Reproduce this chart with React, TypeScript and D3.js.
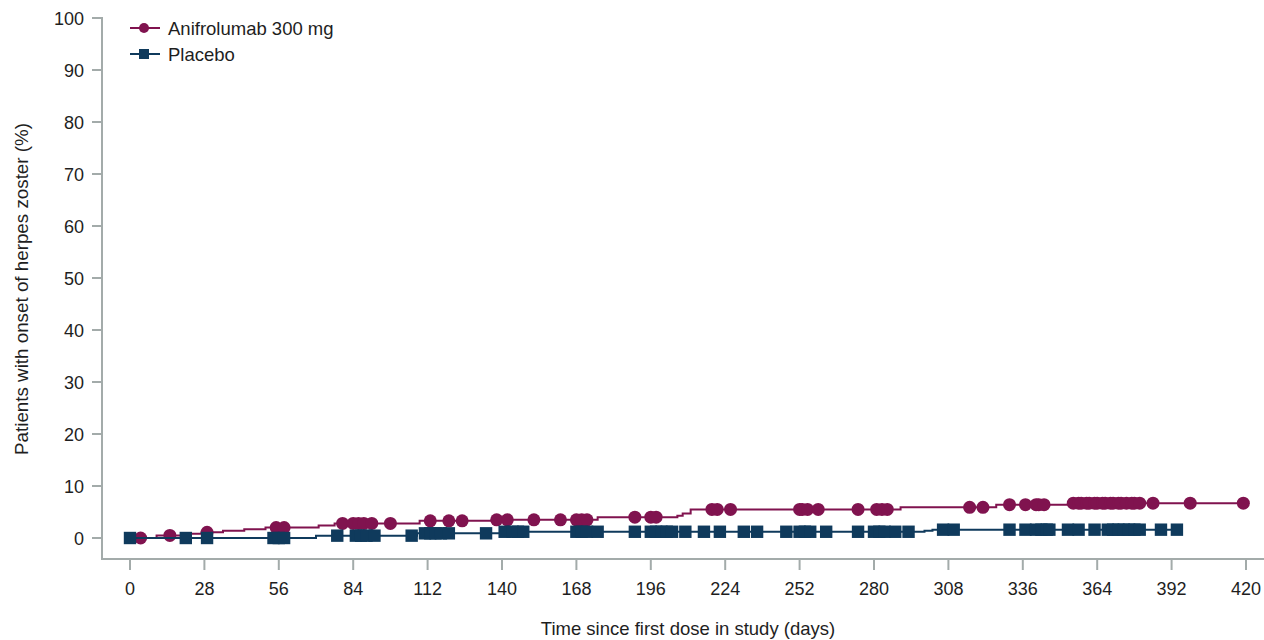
import React from "react";
import * as d3 from "d3";

// step points: [day, cumulative %]
const anifSteps: [number, number][] = [
  [0, 0], [10, 0.5], [21, 0.8], [27, 1.1], [35, 1.4], [43, 1.7], [51, 2.0],
  [71, 2.4], [77, 2.8], [109, 3.3], [137, 3.5], [176, 4.0], [206, 4.3],
  [208, 4.7], [211, 5.5], [290, 5.9], [326, 6.4], [353, 6.7], [419, 6.7],
];
const anifCensor = [
  4, 15, 29, 55, 58, 80, 84, 86, 88, 91, 98, 113, 120, 125, 138, 142, 152,
  162, 168, 170, 172, 190, 196, 198, 219, 221, 226, 252, 253, 255, 259, 274,
  281, 283, 285, 316, 321, 331, 337, 341, 342, 344, 355, 357, 358, 360, 361,
  363, 364, 366, 367, 369, 370, 372, 373, 375, 377, 378, 380, 385, 399, 419,
];

const placeboSteps: [number, number][] = [
  [0, 0], [70, 0.45], [108, 0.9], [140, 1.2], [299, 1.4], [302, 1.6], [394, 1.6],
];
const placeboCensor = [
  0, 21, 29, 54, 56, 58, 78, 85, 87, 89, 92, 106, 111, 113, 115, 117, 120,
  134, 141, 144, 146, 148, 168, 170, 172, 176, 190, 196, 198, 200, 202, 204,
  209, 216, 222, 231, 236, 247, 252, 254, 256, 262, 274, 280, 282, 284, 288,
  293, 306, 310, 331, 337, 341, 343, 345, 346, 353, 357, 363, 368, 370, 372,
  374, 376, 378, 380, 388, 394,
];

const xTicks = d3.range(0, 421, 28);
const yTicks = d3.range(0, 101, 10);

const ANIF = "#80134f";
const PLAC = "#0f3a5c";
const AXIS = "#a3abaa";
const FONT = "'Liberation Sans', Arial, sans-serif";

const valueAt = (steps: [number, number][], t: number) => {
  let v = 0;
  for (const [d, p] of steps) if (d <= t) v = p;
  return v;
};

export default function App() {
  const width = 1264;
  const height = 640;
  const x = d3.scaleLinear().domain([0, 420]).range([130, 1246]);
  const y = d3.scaleLinear().domain([0, 100]).range([538, 18]);
  const axisY = 559;
  const axisX = 102;

  const line = d3
    .line<[number, number]>()
    .x((d) => x(d[0]))
    .y((d) => y(d[1]))
    .curve(d3.curveStepAfter);

  return (
    <svg
      width={width}
      height={height}
      style={{ position: "absolute", left: 0, top: 0, background: "#fff" }}
      fontFamily={FONT}
    >
      {/* axes */}
      <line x1={axisX} x2={axisX} y1={17} y2={axisY + 1} stroke={AXIS} strokeWidth={2} />
      <line x1={axisX - 1} x2={1264} y1={axisY} y2={axisY} stroke={AXIS} strokeWidth={2} />
      {yTicks.map((t) => (
        <g key={"y" + t}>
          <line x1={92} x2={axisX} y1={y(t)} y2={y(t)} stroke={AXIS} strokeWidth={2} />
          <text x={84} y={y(t) + 6.5} textAnchor="end" fontSize={18} fill="#1e1e1e">
            {t}
          </text>
        </g>
      ))}
      {xTicks.map((t) => (
        <g key={"x" + t}>
          <line x1={x(t)} x2={x(t)} y1={axisY} y2={570} stroke={AXIS} strokeWidth={2} />
          <text x={x(t)} y={595} textAnchor="middle" fontSize={18} fill="#1e1e1e">
            {t}
          </text>
        </g>
      ))}
      <text x={688} y={635} textAnchor="middle" fontSize={18.5} fill="#1e1e1e">
        Time since first dose in study (days)
      </text>
      <text
        transform={`translate(28,289) rotate(-90)`}
        textAnchor="middle"
        fontSize={18.8}
        fill="#1e1e1e"
      >
        Patients with onset of herpes zoster (%)
      </text>

      {/* anifrolumab */}
      <path d={line(anifSteps) || ""} fill="none" stroke={ANIF} strokeWidth={2} />
      {anifCensor.map((t, i) => (
        <circle key={"a" + i} cx={x(t)} cy={y(valueAt(anifSteps, t))} r={6.5} fill={ANIF} />
      ))}

      {/* placebo */}
      <path d={line(placeboSteps) || ""} fill="none" stroke={PLAC} strokeWidth={2} />
      {placeboCensor.map((t, i) => (
        <rect
          key={"p" + i}
          x={x(t) - 6.2}
          y={y(valueAt(placeboSteps, t)) - 6.2}
          width={12.4}
          height={12.4}
          fill={PLAC}
        />
      ))}

      {/* legend */}
      <line x1={130} x2={160} y1={28} y2={28} stroke={ANIF} strokeWidth={2} />
      <circle cx={144} cy={28} r={5} fill={ANIF} />
      <text x={168} y={35} fontSize={18.5} fill="#1e1e1e">
        Anifrolumab 300 mg
      </text>
      <line x1={130} x2={160} y1={54} y2={54} stroke={PLAC} strokeWidth={2} />
      <rect x={139} y={49} width={10} height={10} fill={PLAC} />
      <text x={168} y={61} fontSize={18.5} fill="#1e1e1e">
        Placebo
      </text>
    </svg>
  );
}
